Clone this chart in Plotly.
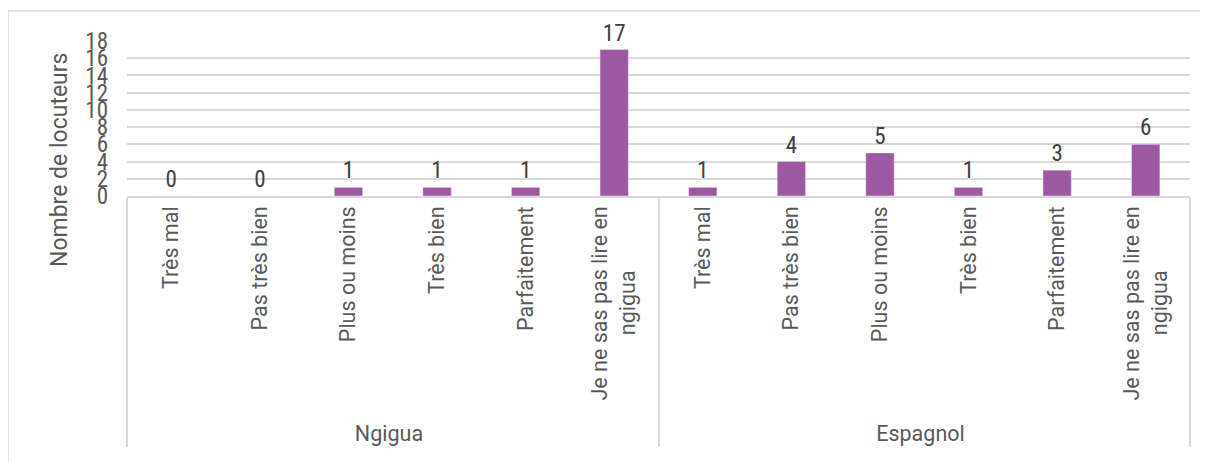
import plotly.graph_objects as go

groups = ["Ngigua"] * 6 + ["Espagnol"] * 6
levels = ["Très mal", "Pas très bien", "Plus ou moins", "Très bien", "Parfaitement",
          "Je ne sas pas lire en<br>ngigua" + "\u00a0" * 12 + "\u200b"]
categories = levels + levels
values = [0, 0, 1, 1, 1, 17, 1, 4, 5, 1, 3, 6]
y_ticks = [0, 2, 4, 6, 8, 10, 12, 14, 16, 18]

FONT = "Roboto, sans-serif"
COND = "Roboto Condensed, Roboto, sans-serif"
GRAY = "#595959"

# page body adds an 8px offset; figure is sized so the plot sits where the reference has it
W, H = 1200, 454
PL, PR, PT, PB = 127 - 8, 1190 - 8, 41 - 8, 196 - 8
PW, PH = PR - PL, PB - PT


def px(X):
    return (X - 8 - PL) / PW


def py(Y):
    return (PB - (Y - 8)) / PH


fig = go.Figure()
fig.add_trace(go.Bar(
    x=[groups, categories],
    y=values,
    marker=dict(color="#9C58A1"),
    text=[str(v) for v in values],
    textposition="outside",
    textfont=dict(size=23, color="#404040", family=COND),
    cliponaxis=False,
))

fig.update_layout(
    width=W, height=H,
    margin=dict(l=PL, r=W - PR, t=PT, b=H - PB),
    paper_bgcolor="white", plot_bgcolor="white",
    bargap=0.68,
    showlegend=False,
    font=dict(family=FONT, color=GRAY, size=20),
    xaxis=dict(
        type="multicategory",
        tickangle=-90,
        tickfont=dict(size=21.5, color=GRAY, family=FONT),
        showline=True, linecolor="#D9D9D9", linewidth=1.5,
        showdividers=True, dividercolor="#D9D9D9", dividerwidth=1.5,
        ticks="", showgrid=False,
    ),
    yaxis=dict(
        range=[0, 18], tickvals=y_ticks, ticktext=[str(t) for t in y_ticks],
        showgrid=True, gridcolor="#D9D9D9", gridwidth=1.5,
        zeroline=False, ticks="", ticklabelstandoff=18,
        tickfont=dict(size=23, color=GRAY, family=COND),
    ),
    shapes=[dict(type="rect", xref="paper", yref="paper",
                 x0=px(8), x1=px(1220), y0=py(480), y1=py(11),
                 line=dict(color="#D9D9D9", width=1.5), layer="below")],
    annotations=[dict(text="Nombre de locuteurs", textangle=-90, showarrow=False,
                      xref="paper", yref="paper", x=px(59), y=py(160),
                      xanchor="center", yanchor="middle",
                      font=dict(size=23, color=GRAY, family=FONT))],
)

fig.write_html("out.html")
